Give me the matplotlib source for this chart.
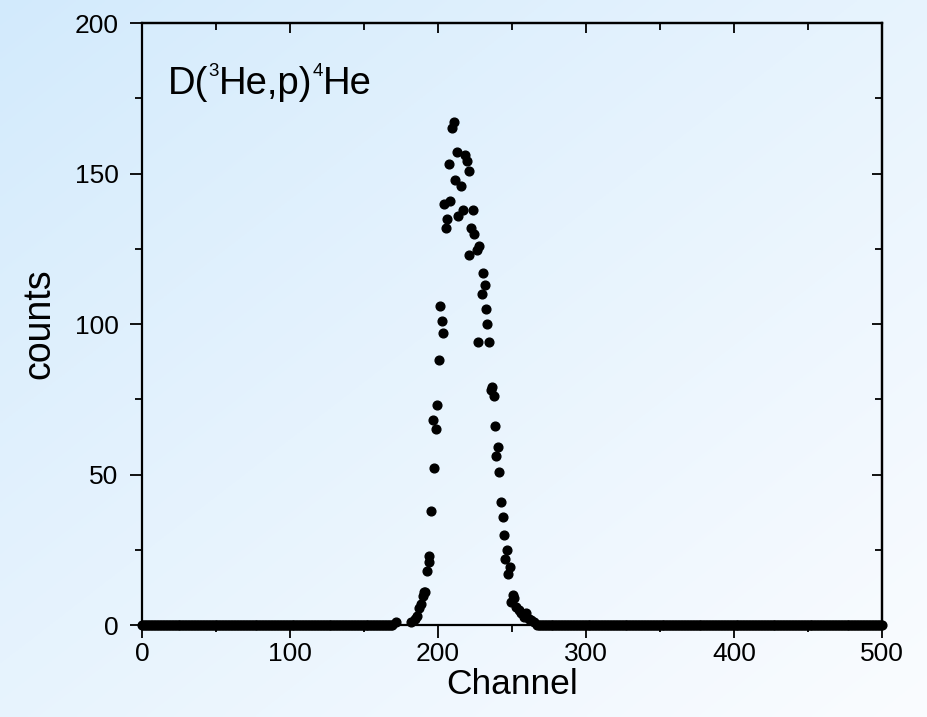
import numpy as np
import matplotlib
matplotlib.use("Agg")
import matplotlib.pyplot as plt

plt.rcParams['font.family'] = ['Liberation Sans', 'DejaVu Sans']

# ---- data ----
baseline_channels = np.arange(0, 501)          # every channel, counts zero outside the peak
peak_channels = [171.6, 182.0, 184.5, 185.5, 187.4, 188.6, 189.7, 190.8, 191.5, 192.8,
                 193.6, 194.2, 195.3, 196.4, 197.6, 198.7, 199.4, 200.5, 201.4, 202.5,
                 203.4, 204.3, 205.5, 206.4, 207.3, 208.4, 209.3, 210.6, 211.3, 212.8,
                 213.3, 215.2, 217.2, 218.5, 219.7, 220.6, 221.2, 222.4, 223.5, 224.6,
                 226.2, 227.3, 228.0, 229.6, 230.5, 231.6, 232.5, 233.4, 234.6, 235.5,
                 236.6, 237.7, 238.6, 239.5, 240.6, 241.5, 242.7, 243.6, 244.5, 245.1,
                 246.5, 247.2, 248.8, 249.5, 250.6, 251.4, 252.8, 254.5, 256.2, 257.8,
                 259.6, 261.5, 263.0, 265.0]
peak_counts = [1, 1, 2, 3, 5.5, 7, 9.5, 11, 11, 18,
               21, 23, 38, 68, 52, 65, 73, 88, 106, 101,
               97, 140, 132, 135, 153, 141, 165, 167, 148, 157,
               136, 146, 138, 156, 154, 151, 123, 132, 138, 130,
               124.6, 94, 126, 110, 117, 113, 105, 100, 94, 78,
               79, 76, 66, 56, 59, 51, 41, 36, 30, 22,
               25, 17, 19.4, 7.7, 10, 9, 6, 5, 4, 2.5,
               4, 2, 1.5, 1]

x_ticks = [0, 100, 200, 300, 400, 500]
y_ticks = [0, 50, 100, 150, 200]
x_label = "Channel"
y_label = "counts"
# reaction label pieces: (text, is_superscript)
reaction_parts = [("D(", False), ("3", True), ("He,p)", False), ("4", True), ("He", False)]

# baseline zeros outside the peak region
base_x = [c for c in baseline_channels if not (170 <= c <= 266)]
base_y = [0] * len(base_x)

fig = plt.figure(figsize=(9.27, 7.17), dpi=100)

# background gradient
bg = fig.add_axes([0, 0, 1, 1], zorder=-10)
gx, gy = np.meshgrid(np.linspace(0, 1, 300), np.linspace(0, 1, 300))
t = np.clip((gx * 0.6 + gy * 0.6) / 1.2, 0, 1) ** 0.9
c0 = np.array([210, 234, 252]) / 255.0
c1 = np.array([250, 252, 255]) / 255.0
img = c0[None, None, :] * (1 - t[..., None]) + c1[None, None, :] * t[..., None]
bg.imshow(img, aspect='auto', extent=[0, 1, 0, 1], origin='upper')
bg.axis('off')

ax = fig.add_axes([0.1532, 0.1283, 0.7983, 0.8396])
ax.set_facecolor('none')
ax.plot(base_x, base_y, 'o', color='black', ms=6.3, clip_on=False, zorder=3)
ax.plot(peak_channels, peak_counts, 'o', color='black', ms=6.3, clip_on=False, zorder=3)

ax.set_xlim(0, 500)
ax.set_ylim(0, 200)
ax.set_xticks(x_ticks)
ax.set_yticks(y_ticks)
ax.set_xticks([50, 150, 250, 350, 450], minor=True)
ax.set_yticks([25, 75, 125, 175], minor=True)

for s in ax.spines.values():
    s.set_linewidth(1.6)

ax.tick_params(which='major', direction='out', length=9, width=1.3, labelsize=19,
               top=False, right=False)
ax.tick_params(axis='x', which='major', pad=3)
ax.tick_params(axis='y', which='major', pad=8)
ax.tick_params(which='minor', direction='out', length=5, width=1.3,
               top=False, right=False)
# inward ticks on top and right
ax2 = ax.secondary_xaxis('top')
ax2.set_xticks(x_ticks)
ax2.set_xticks([50, 150, 250, 350, 450], minor=True)
ax2.tick_params(which='major', direction='in', length=7, width=1.3, labeltop=False)
ax2.tick_params(which='minor', direction='in', length=5, width=1.3)
ax2.spines['top'].set_linewidth(1.6)
ax3 = ax.secondary_yaxis('right')
ax3.set_yticks(y_ticks)
ax3.set_yticks([25, 75, 125, 175], minor=True)
ax3.tick_params(which='major', direction='in', length=7, width=1.3, labelright=False)
ax3.tick_params(which='minor', direction='in', length=5, width=1.3)
ax3.spines['right'].set_linewidth(1.6)

ax.set_xlabel(x_label, fontsize=25.5, labelpad=2)
ax.set_ylabel(y_label, fontsize=27, labelpad=12)

# reaction label built piece by piece (small raised superscripts)
fig.canvas.draw()
renderer = fig.canvas.get_renderer()
x_px, y_px = 168, 717 - 94   # baseline position in pixels
for txt, sup in reaction_parts:
    if sup:
        tt = fig.text(x_px / 927, (y_px + 18) / 717, txt, fontsize=13.5,
                      va='baseline', ha='left')
    else:
        tt = fig.text(x_px / 927, y_px / 717, txt, fontsize=27.5,
                      va='baseline', ha='left')
    bb = tt.get_window_extent(renderer)
    x_px = bb.x1

fig.savefig("out.png", dpi=100)
